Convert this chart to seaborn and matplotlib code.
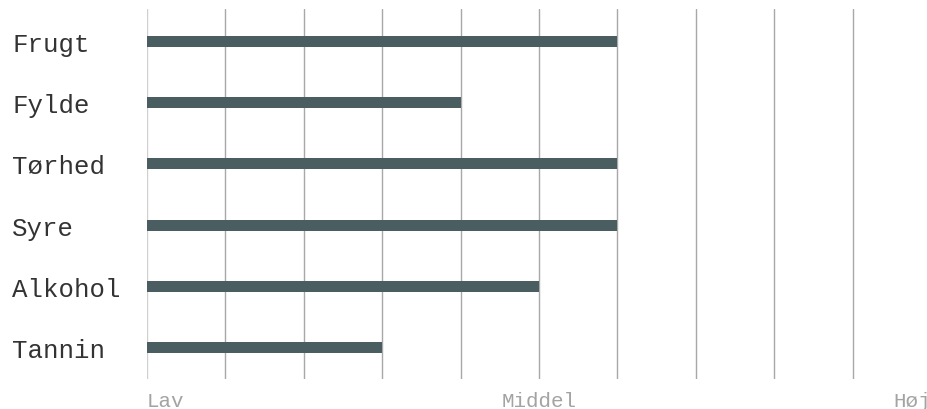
import matplotlib
matplotlib.use("Agg")
import matplotlib.pyplot as plt
import seaborn as sns
import pandas as pd

# smagsprofil (0 = Lav, 5 = Middel, 10 = Høj)
egenskaber = ["Frugt", "Fylde", "Tørhed", "Syre", "Alkohol", "Tannin"]
niveau = [6, 4, 6, 6, 5, 3]
skala_pos = [0, 5, 10]
skala_tekst = ["Lav", "Middel", "Høj"]

df = pd.DataFrame({"egenskab": egenskaber, "niveau": niveau})

sns.set_style("white")
plt.rcParams["font.family"] = ["Liberation Mono", "DejaVu Sans Mono"]

fig = plt.figure(figsize=(9.27, 4.10), dpi=100)
ax = fig.add_axes([147 / 927, 30 / 410, 784 / 927, 370 / 410])

sns.barplot(data=df, x="niveau", y="egenskab", orient="h", color="#4a5e61",
            width=0.18, saturation=1, linewidth=0, ax=ax, zorder=3)

ax.set_xlim(0, 10)
ax.set_ylim(5.52, -0.535)
for v in range(11):
    ax.axvline(v, color="#d0d0d0" if v == 0 else "#a8a8a8", lw=1.0, zorder=1)

ax.set_xticks(skala_pos)
ax.set_xticklabels(skala_tekst, color="#a3a3a3", fontsize=15)
labs = ax.get_xticklabels()
labs[0].set_ha("left")
labs[-1].set_ha("right")
ax.tick_params(axis="x", length=0, pad=9)

ax.set_yticks(range(len(egenskaber)))
ax.set_yticklabels(egenskaber, color="#333333", fontsize=18.5)
for t in ax.get_yticklabels():
    t.set_ha("left")
ax.tick_params(axis="y", length=0, pad=97)

ax.set_xlabel("")
ax.set_ylabel("")
for s in ax.spines.values():
    s.set_visible(False)

fig.savefig("out.png", dpi=100)
